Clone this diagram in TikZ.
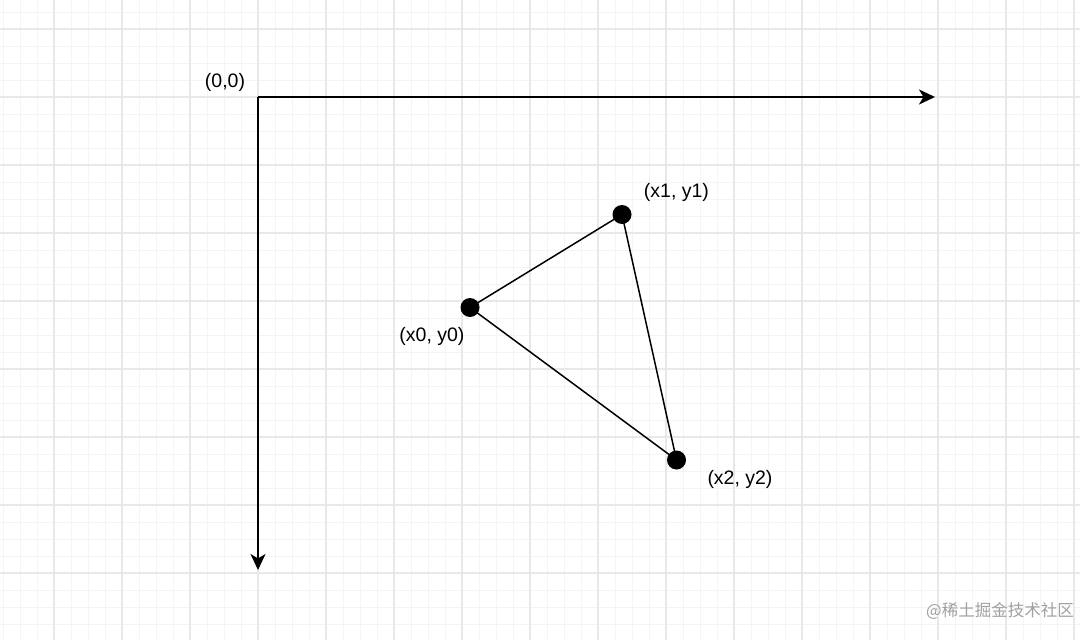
\documentclass[tikz,border=0pt]{standalone}
\usepackage{fontspec}
\setmainfont{Liberation Sans}
\newfontfamily\cjk{Noto Sans CJK SC}
\usetikzlibrary{arrows.meta}

\definecolor{minorgrid}{HTML}{F4F4F4}
\definecolor{majorgrid}{HTML}{E8E8E8}
\definecolor{markgray}{HTML}{A0A0A0}

\tikzset{
  lbl/.style={font=\fontsize{19.5}{23}\selectfont},
  axis/.style={line width=2pt, -{Stealth[length=16pt,width=15pt,inset=4.5pt]}},
  edge/.style={line width=1.5pt},
  dot/.style={circle, fill=black, inner sep=0pt, minimum size=19pt}
}

\begin{document}
\begin{tikzpicture}[x=1pt,y=-1pt]
  \useasboundingbox (0,0) rectangle (1080,640);
  \fill[white] (0,0) rectangle (1080,640);

  % Grid
  \foreach \i in {-15,...,48}
    \draw[minorgrid, line width=1pt] ({258+17*\i},0) -- ({258+17*\i},640);
  \foreach \j in {-5,...,32}
    \draw[minorgrid, line width=1pt] (0,{97+17*\j}) -- (1080,{97+17*\j});
  \foreach \i in {-3,...,12}
    \draw[majorgrid, line width=1.2pt] ({258+68*\i},0) -- ({258+68*\i},640);
  \foreach \j in {-1,...,8}
    \draw[majorgrid, line width=1.2pt] (0,{97+68*\j}) -- (1080,{97+68*\j});

  % Axes
  \coordinate (o) at (258,97);
  \coordinate (xend) at (935,97);
  \coordinate (yend) at (258,570);
  \draw[axis] (o) -- (xend);
  \draw[axis] (o) -- (yend);
  \node[lbl] (olbl) at (225,82) {(0,0)};

  % Points
  \node[dot] (p0) at (470,307.5) {};
  \node[dot] (p1) at (622,214.5) {};
  \node[dot] (p2) at (676.5,460) {};

  % Triangle
  \draw[edge] (p0.center) -- (p1.center) -- (p2.center) -- cycle;

  % Labels for points
  \node[lbl] (l0) at (432,336) {(x0, y0)};
  \node[lbl] (l1) at (676.5,192) {(x1, y1)};
  \node[lbl] (l2) at (740,479.5) {(x2, y2)};

  % Watermark
  \node[text=markgray, font=\cjk\fontsize{16.5}{20}\selectfont] (wm) at (1000,611) {@稀土掘金技术社区};

\end{tikzpicture}
\end{document}
